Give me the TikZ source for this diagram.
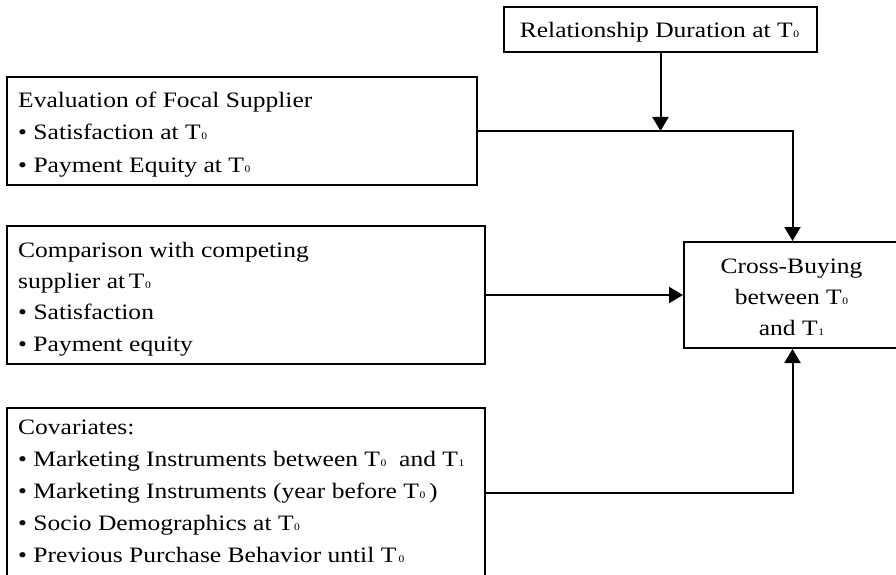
\documentclass[tikz,border=0pt]{standalone}
\usepackage{fontspec}
\setmainfont{Liberation Serif}[FakeStretch=1.16]
\usetikzlibrary{arrows.meta,calc}
\newcommand\Tsb[1]{T\kern0.6pt{\fontsize{10}{10}\selectfont #1}}
\begin{document}
\begin{tikzpicture}[x=1pt,y=-1pt,
  box/.style={draw,line width=2pt,inner sep=0pt,anchor=north west},
  txt/.style={inner sep=0pt,anchor=base west,align=left},
  ctxt/.style={inner sep=0pt,anchor=base,align=center},
  conn/.style={line width=2pt},
  arr/.style={conn,-{Triangle[length=14pt,width=16pt]}}]
\path[use as bounding box] (0,0) rectangle (896,575);
\clip (0,0) rectangle (896,575);
% boxes
\node[box,minimum width=313pt,minimum height=45pt] (dur) at (503,6) {};
\node[ctxt,font=\fontsize{22}{32}\selectfont] (tdur) at (659.5,38) {Relationship Duration at \Tsb{0}};
\node[box,minimum width=470pt,minimum height=108pt] (b1) at (6,76) {};
\node[txt,font=\fontsize{22}{32.5}\selectfont] (t1) at (18,172) {Evaluation of Focal Supplier\\• Satisfaction at \Tsb{0}\\• Payment Equity at \Tsb{0}};
\node[box,minimum width=478pt,minimum height=138pt] (b2) at (6,225) {};
\node[txt,font=\fontsize{22}{31.3}\selectfont] (t2) at (18,351) {Comparison with competing\\supplier at\,\Tsb{0}\\• Satisfaction\\• Payment equity};
\node[box,minimum width=478pt,minimum height=170pt] (b3) at (6,407) {};
\node[txt,font=\fontsize{22}{32}\selectfont] (t3) at (18,562) {Covariates:\\• Marketing Instruments between \Tsb{0}\ \ and \Tsb{1}\\• Marketing Instruments (year before \Tsb{0}\,)\\• Socio Demographics at \Tsb{0}\\• Previous Purchase Behavior until \Tsb{\,0}};
\node[box,minimum width=217pt,minimum height=106pt] (cb) at (683,241) {};
\node[ctxt,font=\fontsize{22}{31}\selectfont] (tcb) at (791.5,335) {Cross-Buying\\between \Tsb{0}\\and \Tsb{1}};
% connectors
\coordinate (j) at (dur.south |- b1.east);
\draw[arr] (dur.south) -- (j);
\draw[arr] (b1.east) -| (cb.north);
\draw[arr] (b2.east) -- (b2.east -| cb.west);
\draw[arr] (b3.east) -| (cb.south);
\end{tikzpicture}
\end{document}
